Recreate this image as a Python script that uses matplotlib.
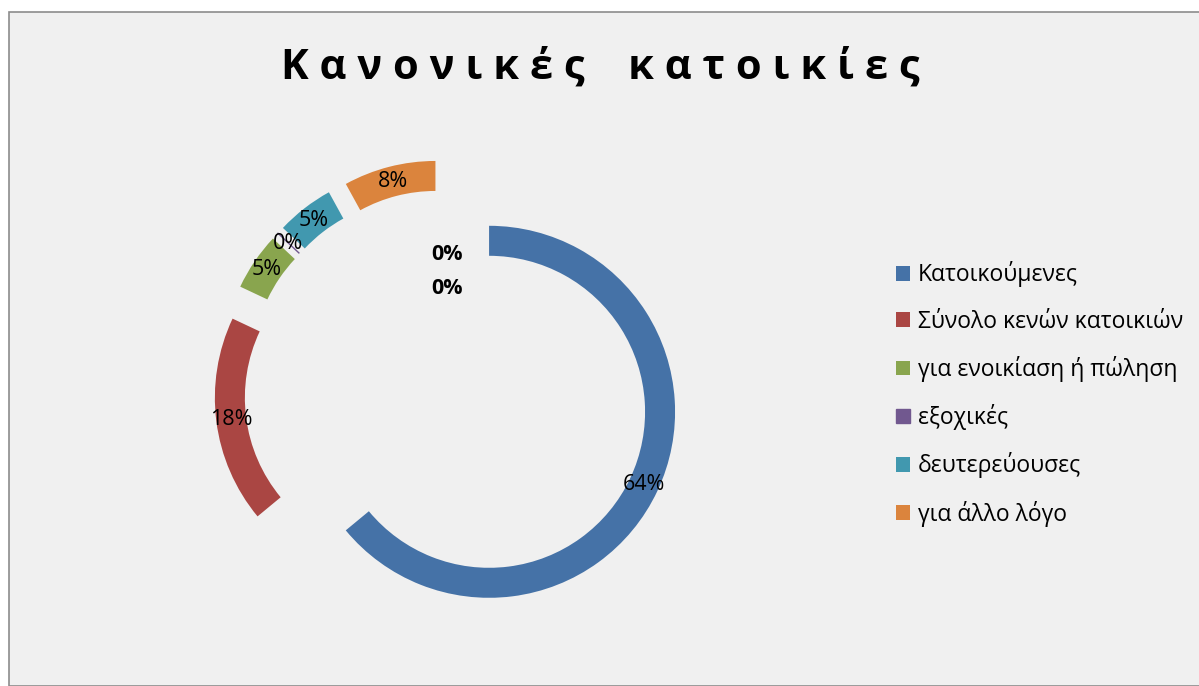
import matplotlib.pyplot as plt
from matplotlib.patches import Rectangle

categories = ["Κατοικούμενες", "Σύνολο κενών κατοικιών", "για ενοικίαση ή πώληση",
              "εξοχικές", "δευτερεύουσες", "για άλλο λόγο"]
values = [64, 18, 5, 0, 5, 8]
colors = ["#4572A7", "#AA4643", "#89A54E", "#71588F", "#4198AF", "#DB843D"]
inner_labels = ["0%", "0%"]
title = "Κανονικές κατοικίες"

plt.rcParams['font.family'] = ['Open Sans', 'DejaVu Sans']

W, H = 1199, 686
fig = plt.figure(figsize=(W / 100, H / 100), dpi=100)
fig.patch.set_facecolor("white")
# chart area with grey border
fig.patches.append(Rectangle((9 / W, 0), 1.0, 1 - 12 / H, transform=fig.transFigure,
                             facecolor="#f0f0f0", edgecolor="#8c8c8c", linewidth=1.2, zorder=-5))

ax = fig.add_axes([0, 0, 1, 1])
ax.set_facecolor("none")

cx, cy = 447, H - 392
R = 186
wedges, texts, autotexts = ax.pie(
    values, colors=colors, startangle=90, counterclock=False,
    center=(cx, cy), radius=R, explode=[46.5] * len(values),
    wedgeprops=dict(width=30, linewidth=0),
    autopct="%1.0f%%", pctdistance=171 / R,
    textprops=dict(fontsize=15.5, color="black"))
wedges[3].set_edgecolor(colors[3])
wedges[3].set_linewidth(1)

for i, lab in enumerate(inner_labels):
    ax.text(cx, cy + 137 - 33 * i, lab, ha="center", va="center",
            fontsize=15.5, fontweight="bold")

ax.set_xlim(0, W)
ax.set_ylim(0, H)
ax.set_aspect("auto")
ax.axis("off")

spaced = "    ".join(" ".join(w) for w in title.split())
fig.text(600 / W, 1 - 68 / H, spaced, ha="center", va="center",
         fontsize=30, fontweight="bold")

leg = ax.legend(wedges, categories, loc="upper left",
                bbox_to_anchor=(885 / W, 1 - 250 / H), bbox_transform=fig.transFigure,
                frameon=False, fontsize=16.5, handlelength=0.6, handleheight=0.6,
                handletextpad=0.35, labelspacing=0.97, borderpad=0)

fig.savefig("out.png", dpi=100, facecolor=fig.get_facecolor())
